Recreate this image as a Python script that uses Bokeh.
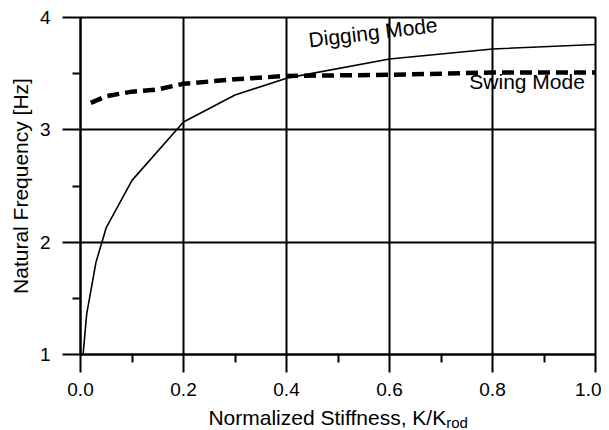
import math
from bokeh.plotting import figure
from bokeh.models import Range1d, Label, FixedTicker
from bokeh.layouts import column, row
from bokeh.core.properties import value
from bokeh.embed import file_html
from bokeh.resources import INLINE

# Data
dig_x = [0.005, 0.012, 0.03, 0.05, 0.1, 0.2, 0.3, 0.4, 0.6, 0.8, 1.0]
dig_y = [1.0, 1.36, 1.82, 2.13, 2.55, 3.07, 3.31, 3.46, 3.63, 3.72, 3.76]
swing_x = [0.02, 0.05, 0.1, 0.15, 0.2, 0.3, 0.4, 0.6, 0.8, 1.0]
swing_y = [3.24, 3.30, 3.34, 3.36, 3.41, 3.45, 3.48, 3.49, 3.51, 3.51]
x_ticks = [0.0, 0.2, 0.4, 0.6, 0.8, 1.0]
x_minor = [0.1, 0.3, 0.5, 0.7, 0.9]
y_ticks = [1, 2, 3, 4]
y_minor = [1.5, 2.5, 3.5]
x_title = "Normalized Stiffness, K/K"
x_title_sub = "rod"
y_title = "Natural Frequency [Hz]"

FONT = "Liberation Sans"
TICK_FS = "19px"
FS = "21px"
TOTAL_H = 430
YS_W = 34              # strip holding the y title
LB, RB = 46, 6         # main figure borders
TOP, BOT = 17, 50
FW, FH = 515, 337
W = LB + FW + RB
H = TOP + FH + BOT

p = figure(width=W, height=H, output_backend="svg", toolbar_location=None,
           x_range=Range1d(0, 1.0), y_range=Range1d(1, 4),
           min_border_left=LB, min_border_right=RB, min_border_top=TOP, min_border_bottom=BOT)
p.background_fill_color = "white"
p.border_fill_color = "white"
p.outline_line_color = "black"
p.outline_line_width = 2

for ax in (p.xaxis[0], p.yaxis[0]):
    ax.axis_line_color = "black"
    ax.axis_line_width = 2
    ax.major_tick_line_color = "black"
    ax.major_tick_line_width = 2
    ax.minor_tick_line_color = "black"
    ax.minor_tick_line_width = 2
    ax.major_tick_in = 0
    ax.major_tick_out = 18
    ax.minor_tick_in = 0
    ax.minor_tick_out = 8
    ax.major_label_text_font = FONT
    ax.major_label_text_font_size = TICK_FS
    ax.major_label_text_color = "black"

p.xaxis[0].ticker = FixedTicker(ticks=x_ticks, minor_ticks=x_minor)
p.yaxis[0].ticker = FixedTicker(ticks=y_ticks, minor_ticks=y_minor)
p.xaxis[0].major_label_overrides = {t: f"{t:.1f}" for t in x_ticks}
p.xaxis[0].major_label_standoff = 10
p.yaxis[0].major_label_standoff = 12

p.xgrid.ticker = FixedTicker(ticks=x_ticks)
p.ygrid.ticker = FixedTicker(ticks=y_ticks)
for g in (p.xgrid[0], p.ygrid[0]):
    g.grid_line_color = "black"
    g.grid_line_width = 2
    g.grid_line_alpha = 1.0

p.line(dig_x, dig_y, line_color="black", line_width=1.6)
p.line(swing_x, swing_y, line_color="black", line_width=4.5, line_dash="12 6")

p.add_layout(Label(x=0.443, y=3.80, text="Digging Mode", angle=0.12,
                   text_font=FONT, text_font_size=FS, text_align="left",
                   text_baseline="middle", text_color="black"))
p.add_layout(Label(x=0.755, y=3.433, text="Swing Mode",
                   text_font=FONT, text_font_size=FS, text_align="left",
                   text_baseline="middle", text_color="black"))


def strip(width, height, xr, yr, **borders):
    s = figure(width=width, height=height, output_backend="svg", toolbar_location=None,
               x_range=xr, y_range=yr, x_axis_location=None, y_axis_location=None,
               **borders)
    s.outline_line_color = None
    s.xgrid.visible = False
    s.ygrid.visible = False
    s.background_fill_color = "white"
    s.border_fill_color = "white"
    return s


# x-axis title strip (same horizontal scale as the chart)
XS_H = TOTAL_H - H
t = strip(W, XS_H, Range1d(0, 1.0), Range1d(0, XS_H),
          min_border_left=LB, min_border_right=RB, min_border_top=0, min_border_bottom=0)
xe = 0.710
t.text(x=[xe], y=[13.5], text=[x_title], text_font=value(FONT), text_font_size=FS,
       text_align="right", text_baseline="middle", text_color="black")
t.text(x=[xe], y=[8.5], text=[x_title_sub], text_font=value(FONT), text_font_size="15px",
       text_align="left", text_baseline="middle", text_color="black")

# y-axis title strip (same vertical scale as the chart)
ys = strip(YS_W, H, Range1d(0, YS_W), Range1d(1, 4),
           min_border_left=0, min_border_right=0, min_border_top=TOP, min_border_bottom=BOT)
ys.text(x=[20], y=[2.5], text=[y_title], angle=math.pi / 2, text_font=value(FONT),
        text_font_size=FS, text_align="center", text_baseline="middle", text_color="black")

layout = row(ys, column(p, t, spacing=0), spacing=0)
open("out.html", "w").write(file_html(layout, INLINE))
